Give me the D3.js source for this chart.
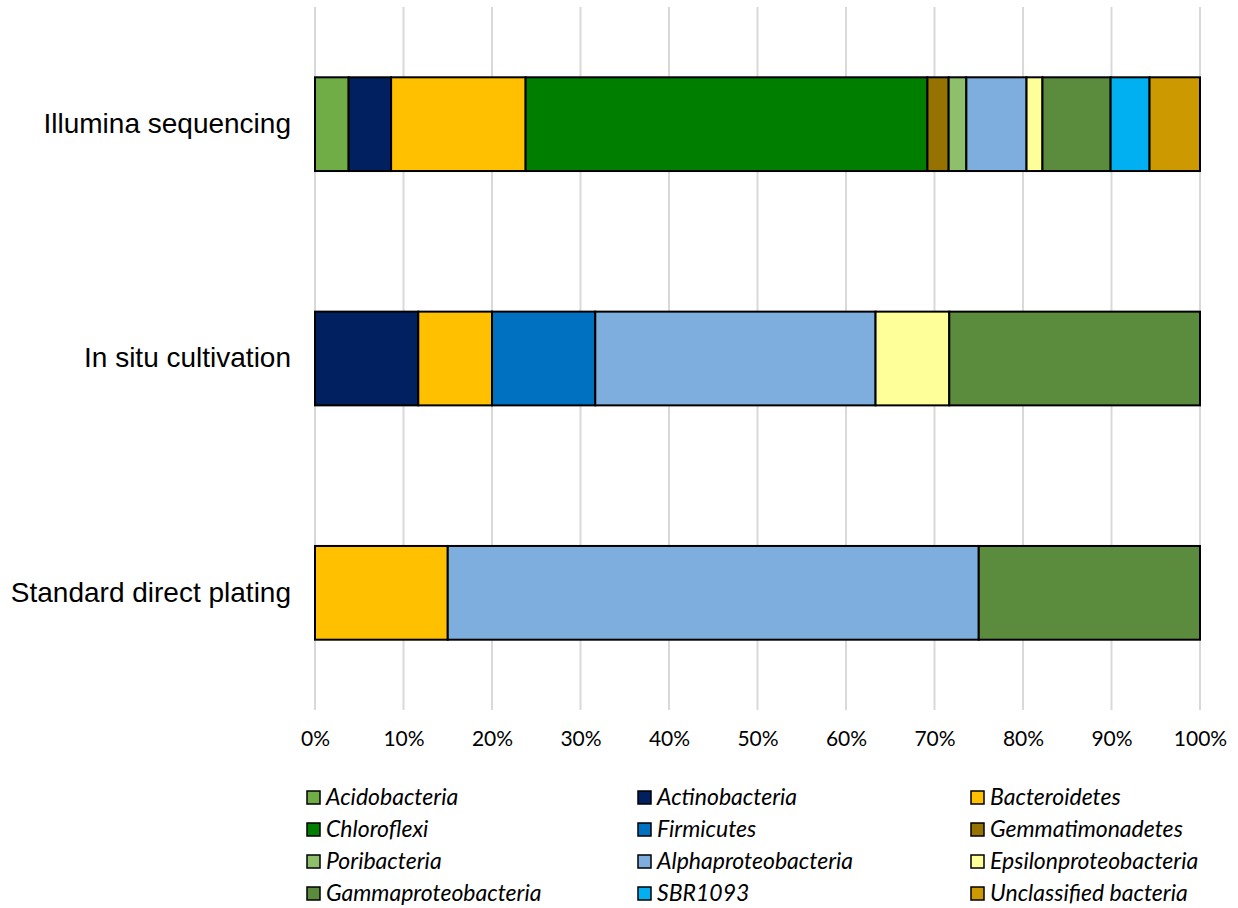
<!DOCTYPE html>
<html>
<head>
<meta charset="utf-8">
<script src="https://cdn.jsdelivr.net/npm/d3@7"></script>
<style>
  html, body { margin: 0; padding: 0; background: #fff; }
  svg { display: block; }
</style>
</head>
<body>
<svg id="chart" width="1238" height="908"></svg>
<script>
// Sampling methods (rows, top to bottom)
const methods = ["Illumina sequencing", "In situ cultivation", "Standard direct plating"];

// Bacterial groups, in stacking / legend order
const taxa = [
  "Acidobacteria", "Actinobacteria", "Bacteroidetes",
  "Chloroflexi", "Firmicutes", "Gemmatimonadetes",
  "Poribacteria", "Alphaproteobacteria", "Epsilonproteobacteria",
  "Gammaproteobacteria", "SBR1093", "Unclassified bacteria"
];

const taxaColors = [
  "#70AD47", "#002060", "#FFC000",
  "#007E00", "#0070C0", "#967300",
  "#8EC06C", "#7EAEDD", "#FFFF99",
  "#5B8B3C", "#00B0F0", "#CC9900"
];

// Relative abundance (%) per method, same order as taxa
const illumina = [3.8, 4.8, 15.2, 45.4, 0, 2.4, 2.0, 6.8, 1.8, 7.7, 4.4, 5.7];
const inSitu   = [0, 11.67, 8.33, 0, 11.67, 0, 0, 31.67, 8.33, 28.33, 0, 0];
const plating  = [0, 0, 15, 0, 0, 0, 0, 60, 0, 25, 0, 0];

const xTicks = [0, 10, 20, 30, 40, 50, 60, 70, 80, 90, 100];

const rows = [illumina, inSitu, plating];

const svg = d3.select("#chart");

const plot = { left: 315, right: 1200, top: 7, bottom: 710 };

const x = d3.scaleLinear().domain([0, 100]).range([plot.left, plot.right]);
const y = d3.scaleBand().domain(methods).range([plot.top, plot.bottom]).paddingInner(0.6).paddingOuter(0.3);

// Vertical gridlines
svg.append("g")
  .selectAll("line")
  .data(xTicks)
  .join("line")
  .attr("x1", d => x(d)).attr("x2", d => x(d))
  .attr("y1", plot.top).attr("y2", plot.bottom)
  .attr("stroke", "#d9d9d9")
  .attr("stroke-width", 2);

// X axis tick labels
const xAxis = d3.axisBottom(x).tickValues(xTicks).tickFormat(d => d + "%").tickSize(0).tickPadding(0);
const xg = svg.append("g").attr("transform", `translate(0, 731)`).call(xAxis);
xg.select(".domain").remove();
xg.selectAll("text")
  .attr("font-family", "Lato, 'Open Sans', sans-serif")
  .attr("font-size", 21)
  .attr("fill", "#000");

// Category labels
const yAxis = d3.axisLeft(y).tickSize(0).tickPadding(24);
const yg = svg.append("g").attr("transform", `translate(${plot.left}, 0)`).call(yAxis);
yg.select(".domain").remove();
yg.selectAll("text")
  .attr("font-family", "'Liberation Sans', Arial, sans-serif")
  .attr("font-size", 28)
  .attr("fill", "#000");

// Stacked segments
rows.forEach((vals, i) => {
  let acc = 0;
  const segs = vals.map((v, k) => {
    const s = { k, x0: acc, x1: acc + v };
    acc += v;
    return s;
  }).filter(s => s.x1 > s.x0);
  svg.append("g")
    .selectAll("rect")
    .data(segs)
    .join("rect")
    .attr("x", d => x(d.x0))
    .attr("width", d => x(d.x1) - x(d.x0))
    .attr("y", y(methods[i]))
    .attr("height", y.bandwidth())
    .attr("fill", d => taxaColors[d.k])
    .attr("stroke", "#000")
    .attr("stroke-width", 2);
});

// Legend: 3 columns x 4 rows
const legCols = [306, 637, 970];
const legRows = [797, 829, 861, 893];
const leg = svg.append("g")
  .selectAll("g")
  .data(taxa)
  .join("g")
  .attr("transform", (d, i) => `translate(${legCols[i % 3]}, ${legRows[Math.floor(i / 3)]})`);

leg.append("rect")
  .attr("x", 1).attr("y", -6)
  .attr("width", 13).attr("height", 13)
  .attr("fill", (d, i) => taxaColors[i])
  .attr("stroke", "#000")
  .attr("stroke-width", 1.5);

leg.append("text")
  .attr("x", 20)
  .attr("y", 0)
  .attr("dy", "0.35em")
  .attr("font-family", "Lato, 'Open Sans', sans-serif")
  .attr("font-style", "italic")
  .attr("font-size", 23)
  .attr("fill", "#000")
  .text(d => d);
</script>
</body>
</html>
